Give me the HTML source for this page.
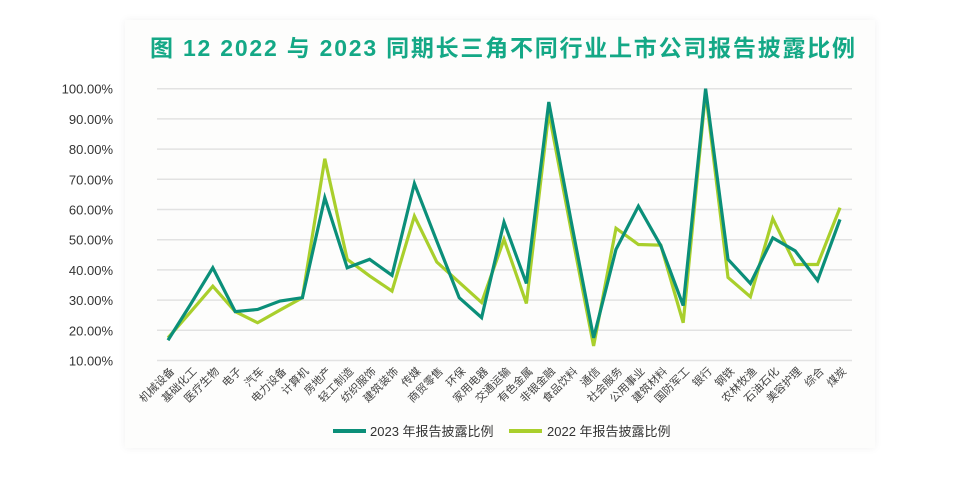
<!DOCTYPE html>
<html><head><meta charset="utf-8"><style>
body{margin:0;background:#fff;width:960px;height:490px;overflow:hidden;font-family:"Liberation Sans","Noto Sans CJK SC",sans-serif;}
#card{position:absolute;left:125px;top:20px;width:750px;height:428px;background:#fdfdfc;box-shadow:0 0 8px rgba(0,0,0,0.06);}
</style></head><body>
<div id="card"></div>
<svg id="chart" width="960" height="490" style="position:absolute;left:0;top:0">
<text x="150" y="56" textLength="705" lengthAdjust="spacing" font-size="23" font-weight="bold" fill="#14a886" font-family="Liberation Sans, Noto Sans CJK SC, sans-serif">图 12 2022 与 2023 同期长三角不同行业上市公司报告披露比例</text>
<g id="grid"></g><g id="ylab"></g><g id="xlab"></g><g id="lines"></g>
<g>
<line x1="333" y1="431" x2="366" y2="431" stroke="#0b8f79" stroke-width="4"/>
<text x="370" y="436" font-size="13" fill="#333">2023 年报告披露比例</text>
<line x1="509" y1="431" x2="542" y2="431" stroke="#a9cf2c" stroke-width="4"/>
<text x="547" y="436" font-size="13" fill="#333">2022 年报告披露比例</text>
</g>
</svg>
<script>
const categories=["机械设备","基础化工","医疗生物","电子","汽车","电力设备","计算机","房地产","轻工制造","纺织服饰","建筑装饰","传媒","商贸零售","环保","家用电器","交通运输","有色金属","非银金融","食品饮料","通信","社会服务","公用事业","建筑材料","国防军工","银行","钢铁","农林牧渔","石油石化","美容护理","综合","煤炭"];
const values2023=[16.7,28.5,40.7,26.2,26.9,29.7,30.8,63.9,40.7,43.5,38.2,68.6,49.5,30.8,24.2,55.8,35.5,95.6,56,17.5,46.8,61.1,48.0,28.2,100,43.5,35.5,50.6,46.3,36.5,56.7];
const values2022=[17.5,26,34.6,26.2,22.5,26.7,30.8,76.8,43.5,38,33,57.8,42.6,35.9,29.2,50.1,28.9,92.2,53,14.8,53.8,48.4,48.2,22.5,98.9,37.5,31.1,57.0,41.8,41.8,60.6];
const yTicks=[10,20,30,40,50,60,70,80,90,100];
const NS="http://www.w3.org/2000/svg";
const x0=168,step=22.4,yBase=360.5,pxPer=3.02;
function xs(i){return x0+i*step;}
function ys(v){return yBase-(v-10)*pxPer;}
function mk(t,a,p){const e=document.createElementNS(NS,t);for(const k in a)e.setAttribute(k,a[k]);p.appendChild(e);return e;}
const grid=document.getElementById('grid'),ylab=document.getElementById('ylab'),xlab=document.getElementById('xlab'),lines=document.getElementById('lines');
yTicks.forEach(t=>{
 const l=mk('line',{x1:157,x2:852,y1:ys(t),y2:ys(t),stroke:'#e2e2e2','stroke-width':1.5},grid);
 
 
 const tx=mk('text',{x:113,y:ys(t)+5,'text-anchor':'end','font-size':13,fill:'#333'},ylab);
 tx.textContent=t.toFixed(2)+'%';
 
 
});
categories.forEach((c,i)=>{
 const tx=mk('text',{transform:`translate(${xs(i)+7},372) rotate(-45)`,'text-anchor':'end','font-size':11,fill:'#444'},xlab);
 tx.textContent=c;
 
 
});
function series(vals,color,name){
 const p=mk('polyline',{points:vals.map((v,i)=>xs(i)+','+ys(v)).join(' '),fill:'none',stroke:color,'stroke-width':3.2,'stroke-linejoin':'miter'},lines);
 
 
}
series(values2022,'#a9cf2c','series-2022-line');
series(values2023,'#0b8f79','series-2023-line');
</script>
</body></html>
